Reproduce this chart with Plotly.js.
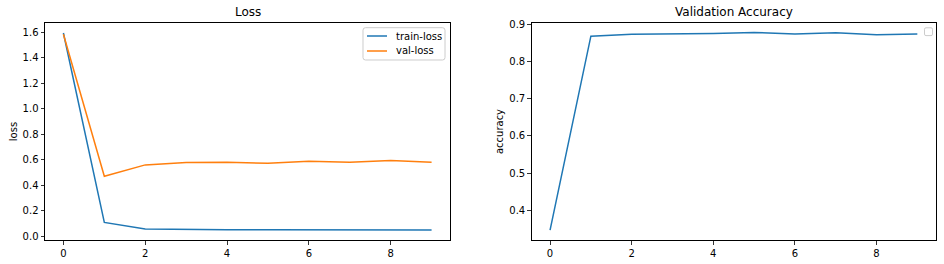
<!DOCTYPE html>
<html>
<head>
<meta charset="utf-8">
<script src="https://cdn.plot.ly/plotly-3.0.1.min.js"></script>
<style>html,body{margin:0;padding:0;background:#fff}#chart{width:944px;height:264px}</style>
</head>
<body>
<div id="chart"></div>
<script>
const epochs = [0, 1, 2, 3, 4, 5, 6, 7, 8, 9];
const trainLoss = [1.595, 0.109, 0.057, 0.052, 0.052, 0.052, 0.051, 0.050, 0.050, 0.049];
const valLoss = [1.585, 0.471, 0.560, 0.578, 0.581, 0.573, 0.589, 0.581, 0.594, 0.581];
const valAcc = [0.347, 0.868, 0.873, 0.873, 0.875, 0.878, 0.874, 0.877, 0.872, 0.874];
const xTicks = [0, 2, 4, 6, 8];
const lossTicks = [0.0, 0.2, 0.4, 0.6, 0.8, 1.0, 1.2, 1.4, 1.6];
const accTicks = [0.4, 0.5, 0.6, 0.7, 0.8, 0.9];
const seriesNames = ['train-loss', 'val-loss'];
const seriesColors = ['#1f77b4', '#ff7f0e'];

const W = 944, H = 264;
const font = {family: 'DejaVu Sans, sans-serif', size: 10, color: '#000'};
const yTop = 1 - 23 / H, yBot = 1 - 240 / H;
const px = v => v / W, py = v => 1 - v / H;

function ax(extra) {
  return Object.assign({
    showgrid: false, zeroline: false, showline: true, mirror: true,
    linecolor: '#000', linewidth: 1, ticks: 'outside', ticklen: 3.5,
    tickwidth: 0.8, tickcolor: '#000', tickfont: font, automargin: false
  }, extra);
}

function roundRect(x0, y0, x1, y1, r) {
  const pts = [
    ['M', x0 + r, y0], ['L', x1 - r, y0], ['Q', x1, y0, x1, y0 + r],
    ['L', x1, y1 - r], ['Q', x1, y1, x1 - r, y1], ['L', x0 + r, y1],
    ['Q', x0, y1, x0, y1 - r], ['L', x0, y0 + r], ['Q', x0, y0, x0 + r, y0]
  ];
  return pts.map(p => {
    const c = p[0]; const nums = p.slice(1);
    const out = [];
    for (let i = 0; i < nums.length; i += 2) out.push(px(nums[i]).toFixed(5) + ',' + py(nums[i + 1]).toFixed(5));
    return c + out.join(' ');
  }).join(' ') + ' Z';
}

const traces = [
  {x: epochs, y: trainLoss, name: seriesNames[0], type: 'scatter', mode: 'lines',
   line: {color: seriesColors[0], width: 1.5}, xaxis: 'x', yaxis: 'y', showlegend: false},
  {x: epochs, y: valLoss, name: seriesNames[1], type: 'scatter', mode: 'lines',
   line: {color: seriesColors[1], width: 1.5}, xaxis: 'x', yaxis: 'y', showlegend: false},
  {x: epochs, y: valAcc, name: 'val-accuracy', type: 'scatter', mode: 'lines',
   line: {color: '#1f77b4', width: 1.5}, xaxis: 'x2', yaxis: 'y2', showlegend: false}
];

const titleFont = {family: 'DejaVu Sans, sans-serif', size: 12, color: '#000'};
const annotations = [
  {text: 'Loss', xref: 'paper', yref: 'paper', x: px(247.5), y: py(12),
   xanchor: 'center', yanchor: 'middle', showarrow: false, font: titleFont},
  {text: 'Validation Accuracy', xref: 'paper', yref: 'paper', x: px(733.7), y: py(12),
   xanchor: 'center', yanchor: 'middle', showarrow: false, font: titleFont}
];
const shapes = [
  {type: 'path', xref: 'paper', yref: 'paper', path: roundRect(363, 27.7, 445, 60, 2.5),
   line: {color: '#cccccc', width: 1}, fillcolor: 'rgba(255,255,255,0.8)'},
  {type: 'path', xref: 'paper', yref: 'paper', path: roundRect(924.5, 27.8, 932.5, 35.6, 1.5),
   line: {color: '#cccccc', width: 1}, fillcolor: 'rgba(255,255,255,0.8)'}
];
seriesNames.forEach((name, i) => {
  const yc = 36 + i * 15;
  shapes.push({type: 'line', xref: 'paper', yref: 'paper', x0: px(367), x1: px(387), y0: py(yc), y1: py(yc),
    line: {color: seriesColors[i], width: 1.5}});
  annotations.push({text: name, xref: 'paper', yref: 'paper', x: px(394), y: py(yc),
    xanchor: 'left', yanchor: 'middle', showarrow: false, font: font});
});

const layout = {
  width: W, height: H,
  margin: {l: 0, r: 0, t: 0, b: 0},
  paper_bgcolor: '#fff', plot_bgcolor: '#fff',
  font: font, showlegend: false,
  xaxis: ax({domain: [px(45), px(450)], range: [-0.45, 9.45], tickvals: xTicks, anchor: 'y'}),
  yaxis: ax({domain: [yBot, yTop], range: [-0.0293, 1.6733], tickvals: lossTicks, tickformat: '.1f', anchor: 'x',
    title: {text: 'loss', font: font, standoff: 3}}),
  xaxis2: ax({domain: [px(531.7), px(935.7)], range: [-0.45, 9.45], tickvals: xTicks, anchor: 'y2'}),
  yaxis2: ax({domain: [yBot, yTop], range: [0.3205, 0.9035], tickvals: accTicks, tickformat: '.1f', anchor: 'x2',
    title: {text: 'accuracy', font: font, standoff: 3}}),
  annotations: annotations,
  shapes: shapes
};

Plotly.newPlot('chart', traces, layout, {displayModeBar: false, staticPlot: true});
</script>
</body>
</html>
